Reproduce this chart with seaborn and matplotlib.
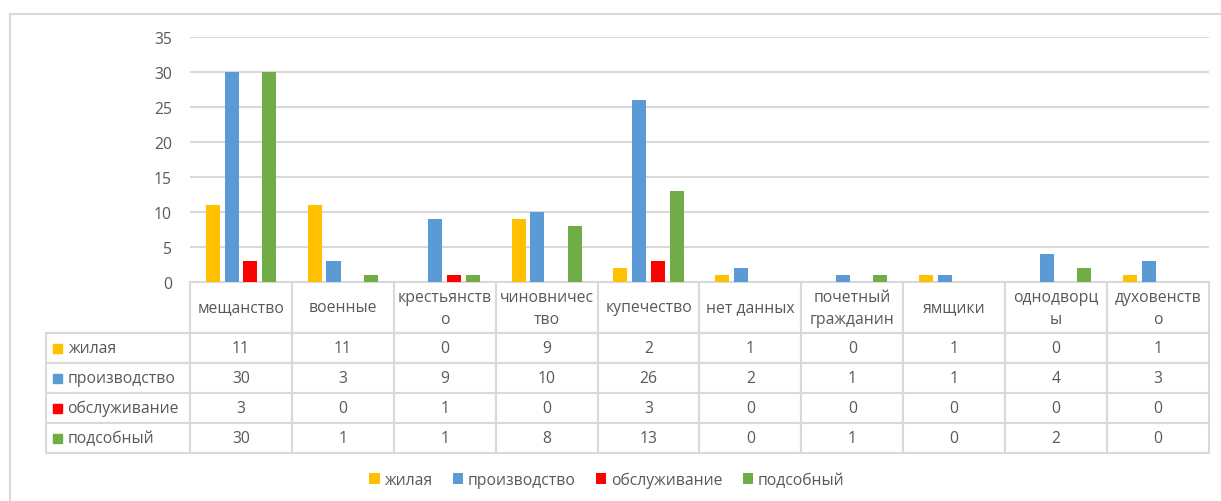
import pandas as pd
import matplotlib
matplotlib.use("Agg")
from matplotlib import pyplot as plt
from matplotlib.patches import Rectangle
import seaborn as sns

categories = ["мещанство", "военные", "крестьянство", "чиновничество", "купечество",
              "нет данных", "почетный гражданин", "ямщики", "однодворцы", "духовенство"]
# header text as wrapped in the data table
header_labels = ["мещанство", "военные", "крестьянств\nо", "чиновничес\nтво", "купечество",
                 "нет данных", "почетный\nгражданин", "ямщики", "однодворц\nы", "духовенств\nо"]
series = ["жилая", "производство", "обслуживание", "подсобный"]
zhilaya = [11, 11, 0, 9, 2, 1, 0, 1, 0, 1]
proizvodstvo = [30, 3, 9, 10, 26, 2, 1, 1, 4, 3]
obsluzhivanie = [3, 0, 1, 0, 3, 0, 0, 0, 0, 0]
podsobny = [30, 1, 1, 8, 13, 0, 1, 0, 2, 0]
yticks = [0, 5, 10, 15, 20, 25, 30, 35]

colors = ["#FFC000", "#5B9BD5", "#FF0000", "#70AD47"]
grid_c = "#D9D9D9"
text_c = "#595959"
FONT = "Open Sans"
FS = 11.3

values = [zhilaya, proizvodstvo, obsluzhivanie, podsobny]
rows = []
for s, vals in zip(series, values):
    for c, v in zip(categories, vals):
        rows.append({"cat": c, "series": s, "value": v})
df = pd.DataFrame(rows)

sns.set_style("white")
plt.rcParams["font.family"] = [FONT, "DejaVu Sans"]

W, H = 1221, 502
fig = plt.figure(figsize=(W / 100, H / 100), dpi=100)
# plot area in pixels: x 190..1209, y 38..283
ax = fig.add_axes([190 / W, 1 - 283 / H, 1019 / W, 245 / H])

sns.barplot(data=df, x="cat", y="value", hue="series", order=categories,
            hue_order=series, palette=colors, saturation=1, width=0.735, gap=0.25,
            linewidth=0, ax=ax)
handles, labels = ax.get_legend_handles_labels()
ax.get_legend().remove()

ax.set_xlim(-0.5, len(categories) - 0.5)
ax.set_ylim(0, 35)
ax.set_yticks(yticks)
ax.yaxis.grid(True, color=grid_c, lw=1.5)
ax.set_axisbelow(True)
for sp in ax.spines.values():
    sp.set_visible(False)
ax.set_xticks([])
ax.set_xlabel("")
ax.set_ylabel("")
ax.tick_params(axis="y", length=0, pad=13, labelsize=FS, labelcolor=text_c)

# data table under the plot
ax_w, ax_h = 1019.0, 245.0
lab_w, col_w = 144.0, 101.9
head_h, row_h = 51.0, 30.0
cell_text = [[s] + [str(v) for v in vals] for s, vals in zip(series, values)]
tbl = ax.table(cellText=cell_text, colLabels=[""] + header_labels, cellLoc="center",
               colWidths=[lab_w] + [col_w] * len(categories),
               bbox=[-lab_w / ax_w, -(head_h + 4 * row_h) / ax_h,
                     (lab_w + col_w * len(categories)) / ax_w,
                     (head_h + 4 * row_h) / ax_h])
tbl.auto_set_font_size(False)
for (r, c), cell in tbl.get_celld().items():
    cell.set_edgecolor(grid_c)
    cell.set_linewidth(1.5)
    cell.set_height(head_h if r == 0 else row_h)
    cell.get_text().set_color(text_c)
    cell.get_text().set_fontsize(FS)
    cell.get_text().set_linespacing(1.5)
    if r == 0 and c == 0:
        cell.visible_edges = "open"
    if r > 0 and c == 0:
        cell.get_text().set_ha("left")
        cell._loc = "left"
        cell.PAD = 0.15

fig.canvas.draw()
# colour keys in the row-label cells
for i, col in enumerate(colors):
    cell = tbl[(i + 1, 0)]
    cy = cell.get_y() + cell.get_height() / 2
    sq_w, sq_h = 9 / ax_w, 9 / ax_h
    ax.add_patch(Rectangle((cell.get_x() + 7 / ax_w, cy - sq_h / 2), sq_w, sq_h,
                           transform=ax.transAxes, color=col, clip_on=False))

fig.legend(handles, labels, loc="center", bbox_to_anchor=(0.497, 1 - 481 / H),
           ncol=4, frameon=False, handlelength=0.65, handleheight=0.65,
           handletextpad=0.3, columnspacing=1.3, fontsize=FS, labelcolor=text_c)

# chart border
fig.patches.append(Rectangle((10 / W, -0.1), 1.2, 1.1 - 15 / H, transform=fig.transFigure,
                             fill=False, edgecolor=grid_c, lw=1.5))

fig.savefig("out.png", dpi=100)
